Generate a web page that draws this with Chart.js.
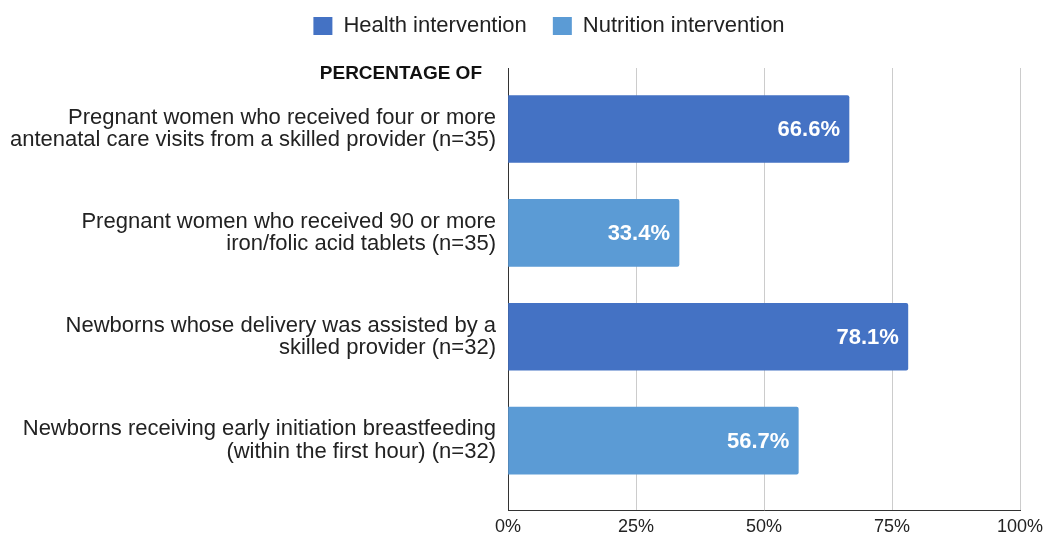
<!DOCTYPE html>
<html>
<head>
<meta charset="utf-8">
<script src="https://cdn.jsdelivr.net/npm/chart.js@4"></script>
<style>
html,body{margin:0;padding:0;background:#fff;}
#wrap{width:1045px;height:537px;}
</style>
</head>
<body>
<div id="wrap"><canvas id="c" width="1045" height="537"></canvas></div>
<script>
const categories = [
  ["Pregnant women who received four or more", "antenatal care visits from a skilled provider (n=35)"],
  ["Pregnant women who received 90 or more", "iron/folic acid tablets (n=35)"],
  ["Newborns whose delivery was assisted by a", "skilled provider (n=32)"],
  ["Newborns receiving early initiation breastfeeding", "(within the first hour) (n=32)"]
];
const healthValues = [66.6, null, 78.1, null];
const nutritionValues = [null, 33.4, null, 56.7];
const xTicks = [0, 25, 50, 75, 100];
const seriesNames = ["Health intervention", "Nutrition intervention"];
const axisHeading = "PERCENTAGE OF";

const toPoints = vals => vals.map((v, i) => v === null ? null : {x: v, y: i}).filter(p => p);

Chart.defaults.font.family = "'Liberation Sans', Arial, sans-serif";
Chart.defaults.color = '#222';

const PAD_RIGHT = 25;

const valueLabels = {
  id: 'valueLabels',
  afterDatasetsDraw(chart) {
    const ctx = chart.ctx;
    ctx.save();
    ctx.font = "bold 22px 'Liberation Sans', Arial, sans-serif";
    ctx.fillStyle = '#fff';
    ctx.textAlign = 'right';
    ctx.textBaseline = 'middle';
    chart.data.datasets.forEach((ds, di) => {
      const meta = chart.getDatasetMeta(di);
      meta.data.forEach((el, i) => {
        const v = ds.data[i].x;
        ctx.fillText(v.toFixed(1) + '%', el.x - 9, el.y + 1);
      });
    });
    ctx.restore();
  }
};

const heading = {
  id: 'heading',
  afterDraw(chart) {
    const ctx = chart.ctx;
    const a = chart.chartArea;
    ctx.save();
    ctx.font = "bold 19px 'Liberation Sans', Arial, sans-serif";
    ctx.fillStyle = '#111';
    ctx.textAlign = 'right';
    ctx.textBaseline = 'middle';
    ctx.fillText(axisHeading, a.left - 26, a.top + 6);
    ctx.restore();
  }
};

const legendFit = {
  id: 'legendFit',
  beforeInit(chart) {
    const orig = chart.legend.fit;
    chart.legend.fit = function() {
      orig.bind(chart.legend)();
      this.height = 68;
    };
  },
  afterLayout(chart) {
    const lg = chart.legend;
    lg.top -= 11;
    lg.bottom -= 11;
    lg.left += 39;
    lg.right += 39;
  }
};

new Chart(document.getElementById('c'), {
  type: 'bar',
  data: {
    datasets: [
      {label: seriesNames[0], data: toPoints(healthValues), backgroundColor: '#4472C4', borderWidth: 0, borderRadius: 2, barThickness: 67},
      {label: seriesNames[1], data: toPoints(nutritionValues), backgroundColor: '#5B9BD5', borderWidth: 0, borderRadius: 2, barThickness: 67}
    ]
  },
  plugins: [valueLabels, heading, legendFit],
  options: {
    indexAxis: 'y',
    responsive: false,
    animation: false,
    layout: {padding: {left: 0, right: PAD_RIGHT, top: 0, bottom: 0}},
    plugins: {
      legend: {
        position: 'top',
        labels: {
          boxWidth: 19, boxHeight: 18, padding: 26,
          font: {size: 22},
          color: '#222'
        }
      },
      tooltip: {enabled: false}
    },
    scales: {
      x: {
        type: 'linear', min: 0, max: 100, stacked: true,
        afterBuildTicks: s => { s.ticks = xTicks.map(v => ({value: v})); },
        ticks: {callback: v => v + '%', font: {size: 18}, color: '#222', padding: 6},
        grid: {color: '#cccccc', drawTicks: false, lineWidth: 1},
        border: {display: true, color: '#333', width: 1},
        afterFit: s => { s.height = 27; s.paddingLeft = 0; s.paddingRight = 0; }
      },
      y: {
        type: 'linear', reverse: true, offset: false, min: -0.587, max: 3.668, stacked: true,
        afterBuildTicks: s => { s.ticks = categories.map((c, i) => ({value: i})); },
        ticks: {
          callback: v => categories[v],
          autoSkip: false,
          font: {size: 22, lineHeight: 1.02},
          color: '#222',
          padding: 12
        },
        grid: {display: false, drawTicks: false, offset: false},
        border: {display: true, color: '#333', width: 1},
        afterFit: s => { s.width = 508; s.paddingTop = 0; s.paddingBottom = 0; }
      }
    }
  }
});
</script>
</body>
</html>
